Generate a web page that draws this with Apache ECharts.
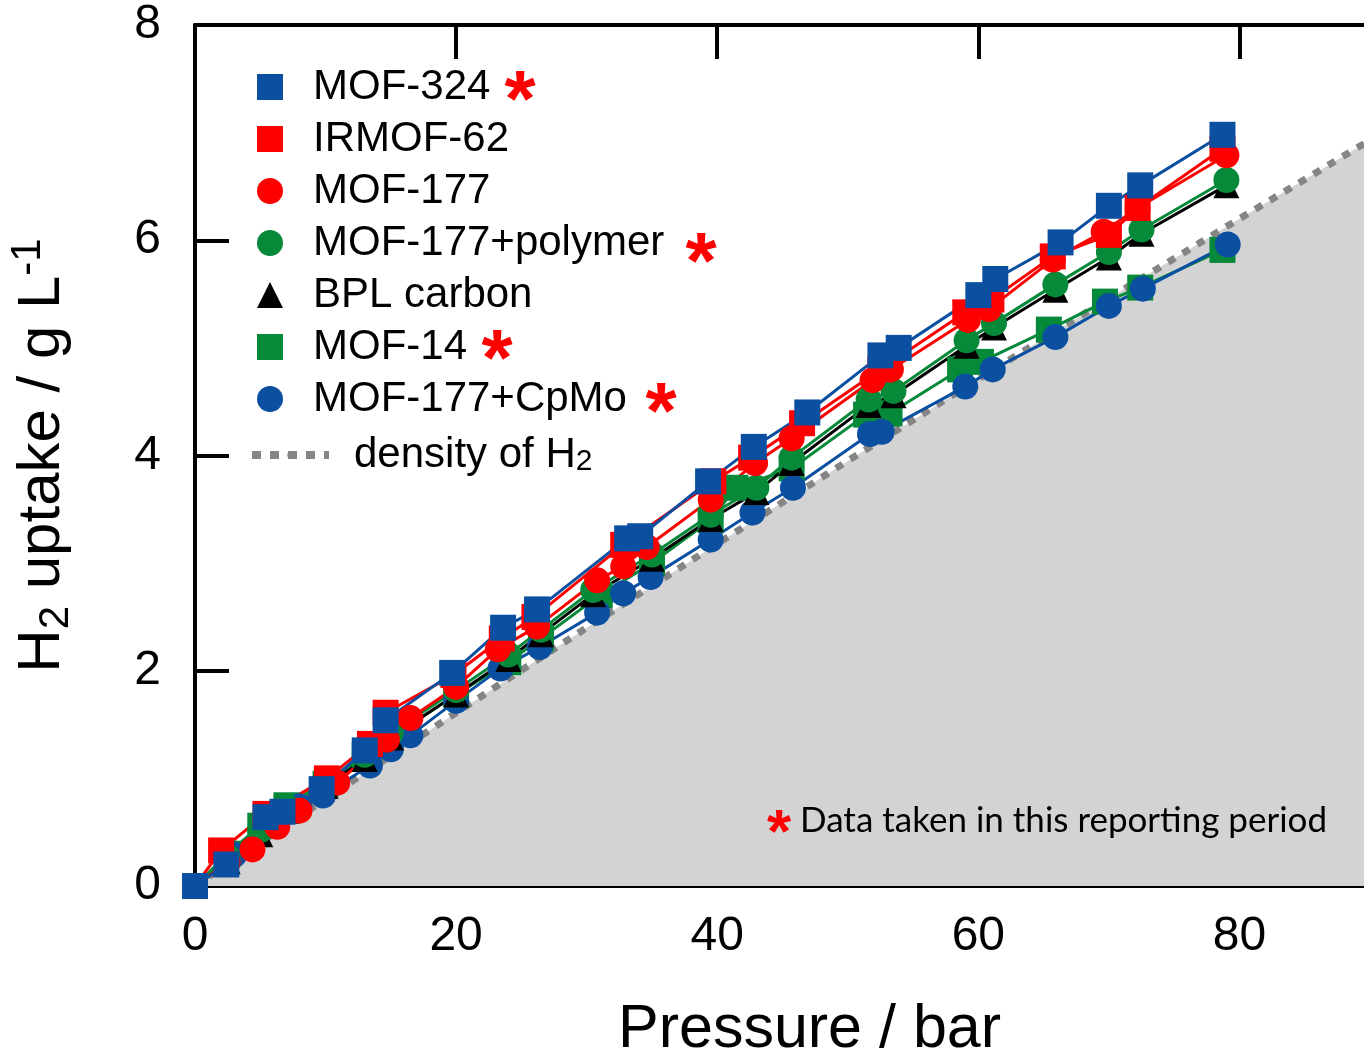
<!DOCTYPE html>
<html><head><meta charset="utf-8">
<script src="https://cdn.jsdelivr.net/npm/echarts@6/dist/echarts.min.js"></script>
<style>html,body{margin:0;padding:0;background:#fff}#c{width:1364px;height:1051px}</style>
</head><body><div id="c"></div>
<script>
// ---- data (pressure bar, uptake g/L) ----
const mof324 = [[0,0],[2.4,0.2],[5.4,0.64],[6.7,0.69],[9.7,0.9],[13,1.26],[14.6,1.54],[19.7,1.98],[23.6,2.4],[26.2,2.57],[33.1,3.23],[34.1,3.25],[39.3,3.76],[42.8,4.08],[46.9,4.4],[52.5,4.93],[53.9,5.0],[60,5.49],[61.3,5.64],[66.3,5.98],[70,6.32],[72.4,6.51],[78.7,6.98]];
const irmof62 = [[0,0],[2,0.33],[5.4,0.67],[10.1,1.0],[13.4,1.32],[14.6,1.61],[19.8,1.96],[23.5,2.3],[26,2.5],[32.8,3.17],[39.7,3.76],[42.6,3.98],[46.5,4.3],[52.5,4.8],[59,5.33],[61,5.45],[65.7,5.85],[70,6.05],[72.2,6.3],[78.7,6.85]];
const mof177 = [[0,0],[2.5,0.22],[4.4,0.34],[6.3,0.55],[8,0.7],[10.9,0.96],[14.7,1.36],[16.5,1.56],[20,1.85],[23.2,2.2],[26.2,2.41],[30.8,2.84],[32.8,2.97],[34.6,3.15],[39.5,3.59],[42.9,3.93],[45.7,4.16],[51.9,4.7],[53.3,4.8],[59.2,5.26],[60.8,5.36],[65.7,5.82],[69.6,6.08],[72.2,6.3],[79,6.79]];
const mof177poly = [[0,0],[2.5,0.27],[5,0.52],[7,0.74],[10,0.97],[13,1.22],[15,1.42],[20,1.82],[24,2.15],[26.5,2.38],[30.5,2.75],[35,3.08],[39.5,3.45],[43,3.7],[45.7,3.98],[51.6,4.52],[53.5,4.6],[59.1,5.07],[61.2,5.23],[65.9,5.59],[70,5.89],[72.5,6.1],[79,6.56]];
const bplCarbon = [[0,0],[2.5,0.23],[5,0.48],[7,0.7],[10,0.93],[13,1.18],[15,1.38],[20,1.78],[24,2.11],[26.5,2.34],[30.5,2.71],[35,3.04],[39.5,3.41],[43,3.66],[45.7,3.93],[51.6,4.47],[53.5,4.56],[59.1,5.02],[61.2,5.19],[65.9,5.54],[70,5.84],[72.5,6.06],[79,6.51]];
const mof14 = [[0,0],[2.5,0.3],[5,0.56],[7,0.75],[10,0.95],[13,1.22],[15,1.38],[20,1.78],[24,2.08],[26.5,2.3],[31,2.7],[35,3.0],[39.5,3.4],[41.4,3.7],[45.7,3.88],[51.4,4.38],[53.2,4.39],[58.6,4.8],[60.2,4.87],[65.4,5.17],[69.7,5.43],[72.4,5.56],[78.7,5.91]];
const mof177cpmo = [[0,0],[3,0.29],[6,0.58],[8,0.74],[9.8,0.84],[13.4,1.12],[15,1.27],[16.5,1.4],[20,1.72],[23.4,2.02],[26.4,2.22],[30.8,2.54],[32.8,2.72],[34.9,2.87],[39.5,3.22],[42.7,3.47],[45.8,3.7],[51.7,4.2],[52.6,4.22],[59,4.64],[61.1,4.8],[65.9,5.1],[70,5.39],[72.6,5.55],[79.1,5.96]];
const h2Density = [[0,0],[10,0.81],[20,1.61],[30,2.4],[40,3.18],[50,3.95],[60,4.71],[70,5.46],[80,6.2],[90,6.93]];

const seriesNames = ['MOF-324','IRMOF-62','MOF-177','MOF-177+polymer','BPL carbon','MOF-14','MOF-177+CpMo'];
const starred = ['MOF-324','MOF-177+polymer','MOF-14','MOF-177+CpMo'];
const xTickLabels = [0,20,40,60,80];
const yTickLabels = [0,2,4,6,8];
const noteText = 'Data taken in this reporting period';

const BLUE='#0b4fa1', RED='#ff0000', GREEN='#07893a', BLACK='#000000', GREY='#858585';
const FONT='Liberation Sans';

function mk(name, data, symbol, color){
  return {type:'line', name, data, symbol, symbolSize:26,
    showSymbol:true, showAllSymbol:true,
    lineStyle:{color, width:3}, itemStyle:{color}, emphasis:{disabled:true}, silent:true};
}
function star(x, y, size){
  return {type:'text', x, y:y + size*0.22, z:100, silent:true,
    style:{text:'*', fontFamily:FONT, fontWeight:'bold', fontSize:size, fill:RED, align:'center', verticalAlign:'middle'}};
}

const chart = echarts.init(document.getElementById('c'), null, {renderer:'canvas'});
const axisLine = {show:true, onZero:false, lineStyle:{color:'#000', width:4}};
const tick = {show:true, inside:true, length:34, lineStyle:{color:'#000', width:4}};
const nameRich = {
  n:{fontFamily:FONT, fontSize:60, color:'#000', lineHeight:70, verticalAlign:'middle'},
  sub:{fontFamily:FONT, fontSize:42, color:'#000', lineHeight:40, verticalAlign:'bottom'},
  sup:{fontFamily:FONT, fontSize:42, color:'#000', lineHeight:32, verticalAlign:'top'}
};
chart.setOption({
  animation:false,
  backgroundColor:'#ffffff',
  grid:{left:195, right:-6, top:25, bottom:165, containLabel:false, outerBoundsMode:'none'},
  xAxis:[
    {type:'value', position:'bottom', min:0, max:90, interval:20,
     axisLine, axisTick:tick, splitLine:{show:false},
     axisLabel:{show:true, showMaxLabel:false, margin:27, fontFamily:FONT, fontSize:48, color:'#000',
       formatter: v => xTickLabels.includes(v) ? String(v) : ''},
     name:'Pressure / bar', nameLocation:'middle', nameGap:114,
     nameTextStyle:{fontFamily:FONT, fontSize:61, color:'#000', padding:[0,0,0,54]}},
    {type:'value', position:'top', min:0, max:90, interval:20,
     axisLine, axisTick:tick, axisLabel:{show:false}, splitLine:{show:false}}
  ],
  yAxis:[
    {type:'value', position:'left', min:0, max:8, interval:2,
     axisLine, axisTick:tick, splitLine:{show:false},
     axisLabel:{margin:34, fontFamily:FONT, fontSize:48, color:'#000', padding:[8,0,0,0],
       formatter: v => yTickLabels.includes(v) ? String(v) : ''},
     name:'{n|H}{sub|2}{n| uptake / g L}{sup|-1}', nameLocation:'middle', nameRotate:90, nameGap:118,
     nameTextStyle:{rich:nameRich}},
    {type:'value', position:'right', min:0, max:8, interval:2,
     axisLine, axisTick:tick, axisLabel:{show:false}, splitLine:{show:false}}
  ],
  legend:[
    {show:true, selectedMode:false, orient:'vertical', left:257, top:66, padding:0,
     itemWidth:26, itemHeight:26, itemGap:10,
     data:[
       {name:'MOF-324', icon:'rect', itemStyle:{color:BLUE}},
       {name:'IRMOF-62', icon:'rect', itemStyle:{color:RED}},
       {name:'MOF-177', icon:'circle', itemStyle:{color:RED}},
       {name:'MOF-177+polymer', icon:'circle', itemStyle:{color:GREEN}},
       {name:'BPL carbon', icon:'triangle', itemStyle:{color:BLACK}},
       {name:'MOF-14', icon:'rect', itemStyle:{color:GREEN}},
       {name:'MOF-177+CpMo', icon:'circle', itemStyle:{color:BLUE}}
     ],
     textStyle:{fontFamily:FONT, fontSize:42, color:'#000', lineHeight:42, padding:[0,0,0,25]}},
    {show:true, selectedMode:false, orient:'vertical', left:248, top:434, padding:0,
     itemWidth:77, itemHeight:8, data:[{name:'density of H2'}],
     lineStyle:{color:GREY, width:8, type:[9,9]},
     formatter: () => '{n|density of H}{sub|2}',
     textStyle:{rich:{
       n:{fontFamily:FONT, fontSize:42, color:'#000', lineHeight:44, verticalAlign:'middle', padding:[0,0,0,20]},
       sub:{fontFamily:FONT, fontSize:30, color:'#000', lineHeight:28, verticalAlign:'bottom'}
     }}}
  ],
  graphic:[
    star(520, 86, 80), star(701, 248, 80), star(497, 345, 80), star(661, 398, 80),
    star(779, 821, 62),
    {type:'text', x:800, y:821, z:100, silent:true,
     style:{text:noteText, fontFamily:'Lato', fontSize:35, fill:'#000', align:'left', verticalAlign:'middle'}}
  ],
  series:[
    {type:'line', name:'density of H2', data:h2Density, symbol:'none', silent:true,
     lineStyle:{color:GREY, width:7, type:[8,9]}, itemStyle:{color:GREY},
     areaStyle:{color:'#d3d3d3', opacity:1}, z:1},
    mk('MOF-14', mof14, 'rect', GREEN),
    mk('MOF-177+CpMo', mof177cpmo, 'circle', BLUE),
    mk('BPL carbon', bplCarbon, 'triangle', BLACK),
    mk('MOF-177+polymer', mof177poly, 'circle', GREEN),
    mk('MOF-177', mof177, 'circle', RED),
    mk('IRMOF-62', irmof62, 'rect', RED),
    mk('MOF-324', mof324, 'rect', BLUE)
  ]
});
</script></body></html>
